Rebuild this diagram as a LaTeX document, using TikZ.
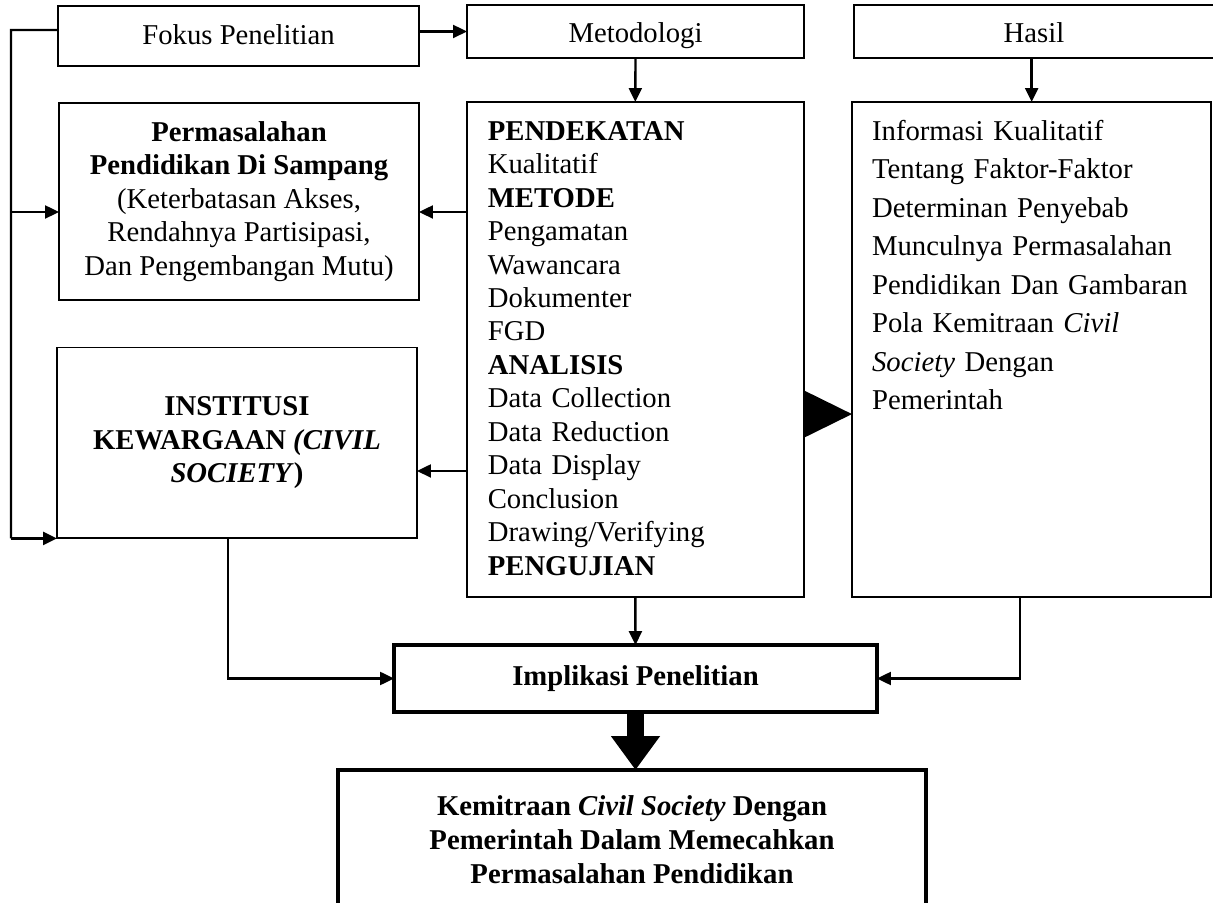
\documentclass[tikz,border=0pt]{standalone}
\usepackage{fontspec}
\setmainfont{Liberation Serif}
\usepackage{tikz}
\usetikzlibrary{positioning, arrows.meta, calc}

\begin{document}
\begin{tikzpicture}[x=0.418pt, y=-0.418pt, line width=0.8pt,
  >={Triangle[length=5.8pt, width=5.4pt]},
  box/.style={draw, rectangle, inner sep=0pt, outer sep=0pt, align=center, font=\fontsize{12}{14}\selectfont},
  title/.style={box, text height=10.6pt, text depth=1pt},
  heavy/.style={box, line width=2pt, font=\fontsize{12}{14.2}\selectfont\bfseries},
  listbox/.style={draw, rectangle, inner xsep=8.7pt, inner ysep=0pt, outer sep=0pt, align=left,
    text height=15.9pt, text depth=191pt, font=\fontsize{12}{14}\selectfont},
  conn/.style={line width=1pt}]
  \useasboundingbox (0,0) rectangle (1213,903);

  % top row
  \node[box, text height=9.5pt, text depth=2pt, minimum width=150.9pt, minimum height=25.1pt] (fokus) at (238.5,36) {Fokus Penelitian};
  \node[title, minimum width=140.9pt, minimum height=22.2pt] (metod) at (635.5,31.5) {Metodologi};
  \node[title, minimum width=150.5pt, minimum height=22.2pt] (hasil) at (1034,31.5)  {Hasil};

  % left column
  \node[box, minimum width=150.5pt, minimum height=82.3pt] (perm) at (239,201.5)
    {\textbf{Permasalahan}\\ \textbf{Pendidikan Di Sampang}\\ (Keterbatasan Akses,\\
     Rendahnya Partisipasi,\\ Dan Pengembangan Mutu)};
  \node[box, minimum width=150.5pt, minimum height=79.8pt, font=\fontsize{12}{14}\selectfont\bfseries] (civil) at (237,443)
    {INSTITUSI\\ KEWARGAAN \textit{(CIVIL}\\ \textit{SOCIETY})};

  % middle and right columns
  \node[listbox, text width=123.3pt, anchor=north west] (mid) at (467,102)
    {\textbf{PENDEKATAN}\\ Kualitatif\\ \textbf{METODE}\\ Pengamatan\\ Wawancara\\ Dokumenter\\ FGD\\
     \textbf{ANALISIS}\\ Data Collection\\ Data Reduction\\ Data Display\\ Conclusion\\
     Drawing/Verifying\\ \textbf{PENGUJIAN}};
  \node[listbox, text width=133.4pt, inner xsep=8.4pt, anchor=north west,
    font=\fontsize{12}{16.1}\selectfont] (res) at (852,102)
    {Informasi Kualitatif\\ Tentang Faktor-Faktor\\ Determinan Penyebab\\ Munculnya Permasalahan\\
     Pendidikan Dan Gambaran\\ Pola Kemitraan \textit{Civil}\\ \textit{Society} Dengan\\ Pemerintah};

  % bottom
  \node[heavy, minimum width=201.9pt, minimum height=28pt] (impl) at (635.5,678.5) {Implikasi Penelitian};
  \node[heavy, minimum width=245.8pt, minimum height=58.5pt] (kemit) at (632,840)
    {Kemitraan \textit{Civil Society} Dengan\\ Pemerintah Dalam Memecahkan\\ Permasalahan Pendidikan};

  % left rail
  \coordinate (railtop) at (11,30);
  \coordinate (railmid) at (11,212);
  \coordinate (cv) at ([yshift=-11.7pt]civil.east);
  \draw[conn] ([yshift=2.5pt]fokus.west) -- (railtop) -- (civil.south west -| railtop);
  \draw[conn, ->] (civil.south west -| railtop) -- (civil.south west);
  \draw[conn, ->] (railmid) -- (railmid -| perm.west);

  \path[conn, ->]
    (metod.west -| fokus.east) edge (metod.west)
    (metod.south)              edge (mid.north)
    (res.north |- hasil.south) edge (res.north)
    (railmid -| mid.west)      edge (railmid -| perm.east)
    (cv -| mid.west)           edge (cv)
    (mid.south)                edge (impl.north);

  \draw[-{Triangle[length=20.1pt, width=19.6pt]}] ([yshift=-27pt]mid.east) -- ([yshift=-27pt]res.west);

  \draw[conn, ->] ([xshift=-3.8pt]civil.south) |- (impl.west);
  \draw[conn, ->] ([xshift=-4.8pt]res.south) |- (impl.east);
  \draw[line width=7.1pt, -{Triangle[length=14.2pt, width=19.6pt]}] (impl.south) -- (impl.south |- kemit.north);
\end{tikzpicture}
\end{document}
